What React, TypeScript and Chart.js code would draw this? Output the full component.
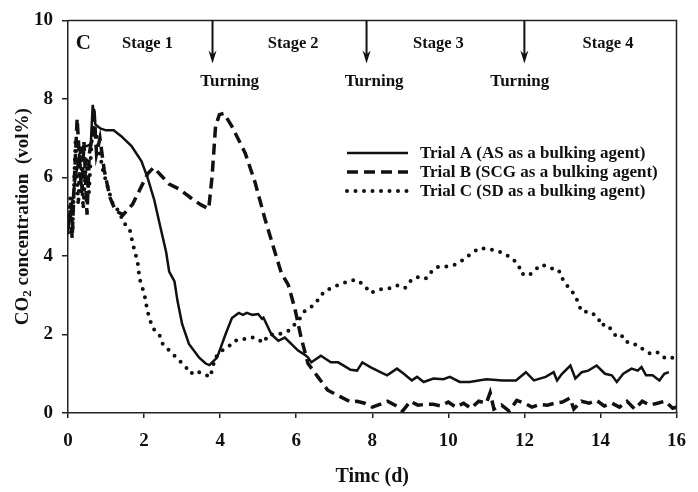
import React, { useEffect, useRef } from "react";
import { Chart, registerables } from "chart.js";

Chart.register(...registerables);

// ---- data (time in d, CO2 in vol%) ----
const trialA: number[][] = [
  [0, 4.6], [0.1, 5.3], [0.2, 6.0], [0.3, 6.6], [0.4, 6.8], [0.5, 6.8], [0.6, 6.85], [0.65, 7.85],
  [0.72, 7.35], [0.85, 7.25], [1.0, 7.2], [1.2, 7.2], [1.4, 7.05], [1.67, 6.8], [1.93, 6.42],
  [2.09, 6.0], [2.27, 5.42], [2.4, 4.86], [2.58, 4.1], [2.66, 3.6], [2.8, 3.35], [2.88, 2.85],
  [3.0, 2.27], [3.18, 1.76], [3.45, 1.41], [3.62, 1.26], [3.72, 1.22], [3.79, 1.29], [3.92, 1.41],
  [4.14, 2.0], [4.31, 2.42], [4.49, 2.55], [4.6, 2.5], [4.7, 2.55], [4.85, 2.5], [5.0, 2.52],
  [5.1, 2.4], [5.14, 2.43], [5.35, 2.0], [5.53, 1.84], [5.7, 1.92], [5.87, 1.76], [6.05, 1.59],
  [6.2, 1.5], [6.31, 1.42], [6.4, 1.29], [6.65, 1.46], [6.91, 1.29], [7.1, 1.29], [7.26, 1.2],
  [7.43, 1.1], [7.6, 1.08], [7.74, 1.29], [7.95, 1.17], [8.2, 1.05], [8.39, 0.96], [8.65, 1.13],
  [8.83, 1.0], [9.04, 0.83], [9.18, 0.92], [9.35, 0.79], [9.61, 0.88], [9.87, 0.86], [10.04, 0.92],
  [10.3, 0.79], [10.56, 0.79], [11.0, 0.86], [11.43, 0.83], [11.78, 0.83], [12.04, 1.04],
  [12.25, 0.83], [12.56, 0.92], [12.77, 1.04], [12.86, 0.83], [12.99, 1.0], [13.21, 1.21],
  [13.34, 0.88], [13.51, 1.04], [13.68, 1.08], [13.9, 1.21], [14.12, 1.0], [14.3, 0.96],
  [14.43, 0.79], [14.6, 1.0], [14.82, 1.13], [14.98, 1.08], [15.08, 1.17], [15.2, 0.96],
  [15.37, 0.96], [15.55, 0.83], [15.68, 1.0], [15.8, 1.04],
];

const trialB: number[][] = [
  [0, 4.8], [0.05, 5.2], [0.11, 4.45], [0.17, 6.0], [0.24, 7.5], [0.3, 6.5], [0.36, 5.6],
  [0.42, 6.9], [0.5, 5.05], [0.56, 6.6], [0.63, 7.0], [0.68, 7.8], [0.75, 6.6], [0.84, 7.0],
  [0.95, 6.2], [1.1, 5.5], [1.25, 5.15], [1.45, 5.05], [1.7, 5.32], [1.96, 5.83], [2.1, 6.1],
  [2.25, 6.25], [2.45, 6.05], [2.66, 5.83], [2.93, 5.7], [3.27, 5.45], [3.5, 5.3], [3.7, 5.2],
  [3.79, 6.04], [3.88, 7.3], [3.98, 7.6], [4.1, 7.63], [4.31, 7.3], [4.66, 6.62], [4.92, 5.87],
  [5.18, 4.94], [5.44, 4.1], [5.61, 3.56], [5.79, 3.27], [5.96, 2.68], [6.13, 1.92], [6.31, 1.26],
  [6.57, 0.92], [6.83, 0.58], [7.17, 0.41], [7.43, 0.28], [7.6, 0.3], [7.8, 0.25], [8.0, 0.15],
  [8.2, 0.22], [8.4, 0.3], [8.6, 0.2], [8.8, 0.05], [9.0, 0.3], [9.2, 0.2], [9.4, 0.22],
  [9.6, 0.22], [9.8, 0.18], [10.0, 0.28], [10.2, 0.15], [10.4, 0.25], [10.6, 0.12], [10.8, 0.3],
  [11.0, 0.25], [11.1, 0.52], [11.2, 0.1], [11.4, 0.2], [11.6, 0.05], [11.8, 0.32], [12.0, 0.25],
  [12.2, 0.15], [12.4, 0.22], [12.6, 0.2], [12.8, 0.25], [13.0, 0.28], [13.2, 0.38], [13.3, 0.1],
  [13.5, 0.3], [13.7, 0.25], [13.9, 0.32], [14.1, 0.18], [14.3, 0.25], [14.5, 0.15], [14.7, 0.3],
  [14.9, 0.1], [15.1, 0.3], [15.3, 0.2], [15.5, 0.25], [15.7, 0.3], [15.9, 0.12], [16.0, 0.15],
];

const trialC: number[][] = [
  [0, 4.6], [0.06, 5.5], [0.12, 4.7], [0.2, 7.0], [0.27, 5.3], [0.33, 6.8], [0.4, 5.2],
  [0.48, 6.5], [0.55, 5.6], [0.62, 6.9], [0.7, 7.3], [0.78, 6.9], [0.84, 6.58], [0.92, 6.17],
  [1.1, 5.57], [1.18, 5.32], [1.36, 5.11], [1.45, 4.86], [1.62, 4.69], [1.71, 4.28], [1.83, 3.85],
  [1.88, 3.43], [2.01, 3.02], [2.09, 2.59], [2.22, 2.17], [2.4, 2.0], [2.49, 1.76], [2.66, 1.59],
  [2.84, 1.42], [3.1, 1.17], [3.23, 1.0], [3.36, 1.08], [3.53, 1.0], [3.75, 0.92], [3.79, 1.13],
  [3.88, 1.42], [4.05, 1.59], [4.23, 1.7], [4.4, 1.85], [4.49, 1.84], [4.75, 1.92], [4.92, 1.92],
  [5.14, 1.79], [5.27, 2.0], [5.53, 2.0], [5.79, 2.09], [6.05, 2.34], [6.22, 2.59], [6.48, 2.76],
  [6.74, 3.1], [7.0, 3.22], [7.2, 3.3], [7.39, 3.35], [7.56, 3.4], [7.78, 3.27], [7.95, 3.06],
  [8.21, 3.15], [8.44, 3.17], [8.65, 3.25], [8.86, 3.18], [9.04, 3.4], [9.25, 3.48], [9.43, 3.43],
  [9.56, 3.6], [9.74, 3.73], [9.96, 3.73], [10.17, 3.78], [10.39, 3.9], [10.6, 4.06], [10.82, 4.2],
  [11.04, 4.18], [11.26, 4.14], [11.47, 4.06], [11.69, 3.93], [11.86, 3.75], [11.9, 3.56],
  [12.12, 3.5], [12.25, 3.63], [12.47, 3.78], [12.69, 3.69], [12.9, 3.65], [12.99, 3.43],
  [13.08, 3.33], [13.16, 3.18], [13.34, 3.0], [13.42, 2.78], [13.51, 2.58], [13.73, 2.58],
  [13.94, 2.43], [14.02, 2.22], [14.12, 2.27], [14.3, 2.12], [14.43, 1.92], [14.6, 1.96],
  [14.72, 1.79], [14.9, 1.76], [15.0, 1.67], [15.12, 1.63], [15.33, 1.5], [15.5, 1.54],
  [15.64, 1.42], [15.86, 1.38], [15.95, 1.46],
];

const seriesLabels = [
  "Trial A (AS as a bulking agent)",
  "Trial B (SCG as a bulking agent)",
  "Trial C (SD as a bulking agent)",
];
const turningDays = [3.8, 7.85, 12];
const turningLabelDays = [4.25, 8.05, 11.88];
const stageLabels = ["Stage 1", "Stage 2", "Stage 3", "Stage 4"];
const stageDays = [2.09, 5.92, 9.74, 14.2];
const panelLetter = "C";
const xTitle = "Timc (d)";
const yTitleMain = "CO";
const yTitleSub = "2";
const yTitleRest = " concentration  (vol%)";

const FONT = "'Liberation Serif', 'Times New Roman', serif";
const INK = "#111";

const dashB = [11, 6];
const dotC = [0, 8.5];

const toXY = (arr: number[][]) => arr.map(([x, y]) => ({ x, y }));

const annotations = {
  id: "annotations",
  afterDraw(chart: any) {
    const { ctx, chartArea: a, scales } = chart;
    const xs = scales.x;
    const ys = scales.y;
    ctx.save();
    // box top and right
    ctx.strokeStyle = "#222";
    ctx.lineWidth = 1.5;
    ctx.beginPath();
    ctx.moveTo(a.left, a.top);
    ctx.lineTo(a.right, a.top);
    ctx.lineTo(a.right, a.bottom);
    ctx.stroke();

    ctx.fillStyle = INK;
    ctx.strokeStyle = INK;
    // arrows
    turningDays.forEach((d) => {
      const px = xs.getPixelForValue(d);
      const tip = ys.getPixelForValue(8.9);
      ctx.lineWidth = 2;
      ctx.beginPath();
      ctx.moveTo(px, a.top);
      ctx.lineTo(px, tip - 8);
      ctx.stroke();
      ctx.beginPath();
      ctx.moveTo(px - 4, tip - 13);
      ctx.lineTo(px, tip - 9);
      ctx.lineTo(px + 4, tip - 13);
      ctx.lineTo(px, tip);
      ctx.closePath();
      ctx.fill();
    });
    ctx.textAlign = "center";
    ctx.textBaseline = "middle";
    ctx.font = `bold 17px ${FONT}`;
    turningLabelDays.forEach((d) => {
      ctx.fillText("Turning", xs.getPixelForValue(d), ys.getPixelForValue(8.44));
    });
    ctx.font = `bold 16.5px ${FONT}`;
    stageLabels.forEach((s, i) => {
      ctx.fillText(s, xs.getPixelForValue(stageDays[i]), ys.getPixelForValue(9.4));
    });
    ctx.font = `bold 21px ${FONT}`;
    ctx.fillText(panelLetter, xs.getPixelForValue(0.4), ys.getPixelForValue(9.4));

    // legend
    const lx0 = 347, lx1 = 408;
    const rows = [153, 172, 191];
    const dashes = [[], dashB, dotC];
    const widths = [2.5, 3.5, 4];
    const caps = ["butt", "butt", "round"];
    rows.forEach((ry, i) => {
      ctx.save();
      ctx.lineWidth = widths[i];
      ctx.setLineDash(dashes[i] as number[]);
      ctx.lineCap = caps[i];
      ctx.beginPath();
      ctx.moveTo(lx0, ry);
      ctx.lineTo(lx1, ry);
      ctx.stroke();
      ctx.restore();
    });
    ctx.textAlign = "left";
    ctx.font = `bold 17px ${FONT}`;
    rows.forEach((ry, i) => ctx.fillText(seriesLabels[i], 420, ry + 1));

    // x title
    ctx.textAlign = "center";
    ctx.font = `bold 20px ${FONT}`;
    ctx.fillText(xTitle, (a.left + a.right) / 2, 477);

    // y title with subscript
    ctx.save();
    ctx.translate(23, (a.top + a.bottom) / 2);
    ctx.rotate(-Math.PI / 2);
    ctx.textAlign = "left";
    ctx.textBaseline = "middle";
    const big = `bold 19px ${FONT}`;
    const small = `bold 13px ${FONT}`;
    ctx.font = big;
    const w1 = ctx.measureText(yTitleMain).width;
    const w3 = ctx.measureText(yTitleRest).width;
    ctx.font = small;
    const w2 = ctx.measureText(yTitleSub).width;
    let x = -(w1 + w2 + w3) / 2;
    ctx.font = big;
    ctx.fillText(yTitleMain, x, 0);
    x += w1;
    ctx.font = small;
    ctx.fillText(yTitleSub, x, 5);
    x += w2;
    ctx.font = big;
    ctx.fillText(yTitleRest, x, 0);
    ctx.restore();

    ctx.restore();
  },
};

export default function App() {
  const ref = useRef<HTMLCanvasElement>(null);
  useEffect(() => {
    if (!ref.current) return;
    const tickFont = { family: FONT, size: 19, weight: "bold" as const };
    const chart = new Chart(ref.current, {
      type: "line",
      data: {
        datasets: [
          {
            label: seriesLabels[0],
            data: toXY(trialA),
            borderColor: INK,
            borderWidth: 2.5,
            pointRadius: 0,
            tension: 0,
          },
          {
            label: seriesLabels[1],
            data: toXY(trialB),
            borderColor: INK,
            borderWidth: 3.5,
            borderDash: dashB,
            pointRadius: 0,
            tension: 0,
          },
          {
            label: seriesLabels[2],
            data: toXY(trialC),
            borderColor: INK,
            borderWidth: 4,
            borderDash: dotC,
            borderCapStyle: "round",
            pointRadius: 0,
            tension: 0,
          },
        ],
      },
      options: {
        responsive: false,
        animation: false,
        layout: { padding: { top: 16, right: 16, left: 0, bottom: 0 } },
        plugins: { legend: { display: false }, tooltip: { enabled: false } },
        scales: {
          x: {
            type: "linear",
            min: 0,
            max: 16,
            ticks: { stepSize: 2, color: INK, font: tickFont, padding: 12, maxRotation: 0 },
            grid: { drawOnChartArea: false, drawTicks: true, tickLength: 5, color: "#222", lineWidth: 1.5 },
            border: { color: "#222", width: 1.5 },
            afterFit: (s: any) => { s.height = 79; },
          },
          y: {
            min: 0,
            max: 10,
            ticks: { stepSize: 2, color: INK, font: tickFont, padding: 9 },
            grid: { drawOnChartArea: false, drawTicks: true, tickLength: 6, color: "#222", lineWidth: 1.5 },
            border: { color: "#222", width: 1.5 },
            afterFit: (s: any) => { s.width = 68; },
          },
        },
      },
      plugins: [annotations],
    });
    return () => chart.destroy();
  }, []);
  return (
    <div style={{ position: "absolute", left: 0, top: 0, width: 698, height: 492, background: "#fff" }}>
      <canvas ref={ref} width={698} height={492} />
    </div>
  );
}
